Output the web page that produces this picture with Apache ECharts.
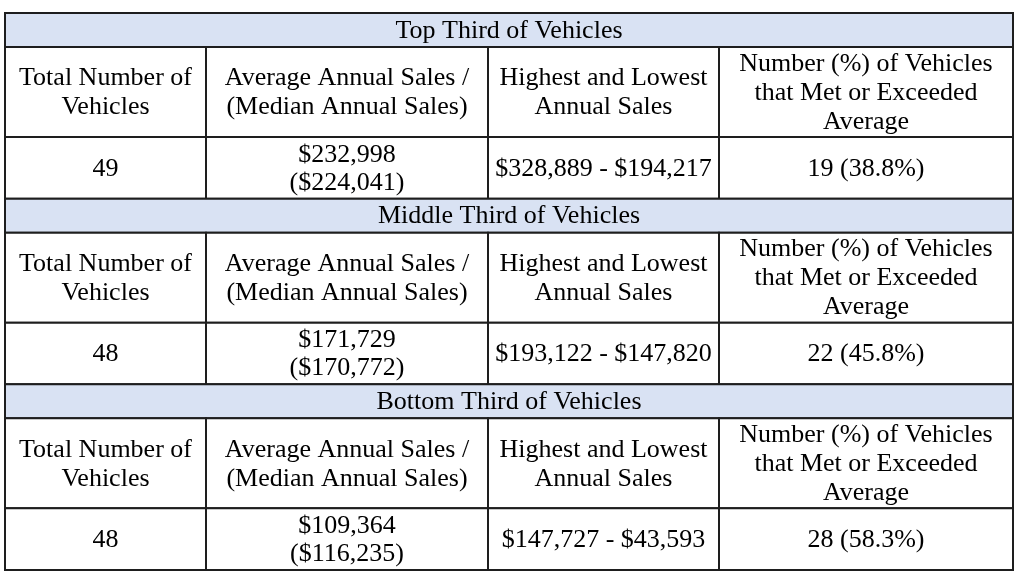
<!DOCTYPE html>
<html>
<head>
<meta charset="utf-8">
<script src="https://cdn.jsdelivr.net/npm/echarts@6/dist/echarts.min.js"></script>
<style>
  html, body { margin: 0; padding: 0; background: #fff; }
  #chart { width: 1024px; height: 579px; }
</style>
</head>
<body>
<div id="chart"></div>
<script>
var sections = ['Top Third of Vehicles', 'Middle Third of Vehicles', 'Bottom Third of Vehicles'];
var headers = [
    'Total Number of\nVehicles',
    'Average Annual Sales /\n(Median Annual Sales)',
    'Highest and Lowest\nAnnual Sales',
    'Number (%) of Vehicles\nthat Met or Exceeded\nAverage'
];
var totalVehicles = [49, 48, 48];
var avgSales = [232998, 171729, 109364];
var medianSales = [224041, 170772, 116235];
var highestSales = [328889, 193122, 147727];
var lowestSales = [194217, 147820, 43593];
var metCount = [19, 22, 28];
var metPct = ['38.8', '45.8', '58.3'];

// table layout (axis units = pixels inside the grid)
var colEdges = [0, 201, 483, 714, 1008];
var sectionH = 185.7, bandH = 34, headH = 90;
var bandColor = '#d9e2f3';

function money(n) {
    return '$' + n.toLocaleString('en-US');
}

var cells = [];
sections.forEach(function (title, s) {
    var y0 = s * sectionH;
    var y1 = y0 + bandH;
    var y2 = y1 + headH;
    var y3 = (s + 1) * sectionH;
    cells.push({ value: [colEdges[0], y0, colEdges[4], y1], text: title, fill: bandColor });
    var row = [
        String(totalVehicles[s]),
        money(avgSales[s]) + '\n(' + money(medianSales[s]) + ')',
        money(highestSales[s]) + ' - ' + money(lowestSales[s]),
        metCount[s] + ' (' + metPct[s] + '%)'
    ];
    for (var c = 0; c < 4; c++) {
        cells.push({ value: [colEdges[c], y1, colEdges[c + 1], y2], text: headers[c], fill: '#fff' });
        cells.push({ value: [colEdges[c], y2, colEdges[c + 1], y3], text: row[c], fill: '#fff', tight: true });
    }
});

var myChart = echarts.init(document.getElementById('chart'));

myChart.setOption({
    animation: false,
    grid: { left: 5, top: 13, right: 11, bottom: 9 },
    xAxis: { type: 'value', min: 0, max: 1008, show: false },
    yAxis: { type: 'value', min: 0, max: 3 * sectionH, inverse: true, show: false },
    series: [{
        type: 'custom',
        coordinateSystem: 'cartesian2d',
        data: cells,
        renderItem: function (params, api) {
            var cell = cells[params.dataIndex];
            var p0 = api.coord([api.value(0), api.value(1)]);
            var p1 = api.coord([api.value(2), api.value(3)]);
            return {
                type: 'group',
                children: [{
                    type: 'rect',
                    shape: { x: p0[0], y: p0[1], width: p1[0] - p0[0], height: p1[1] - p0[1] },
                    style: { fill: cell.fill, stroke: '#1e1e1e', lineWidth: 2 }
                }, {
                    type: 'text',
                    x: (p0[0] + p1[0]) / 2,
                    y: (p0[1] + p1[1]) / 2 + 1,
                    style: {
                        text: cell.text,
                        fill: '#000',
                        font: '26px "Liberation Serif", "Times New Roman", serif',
                        align: 'center',
                        verticalAlign: 'middle',
                        lineHeight: cell.tight ? 28 : 29
                    }
                }]
            };
        }
    }]
});
</script>
</body>
</html>
